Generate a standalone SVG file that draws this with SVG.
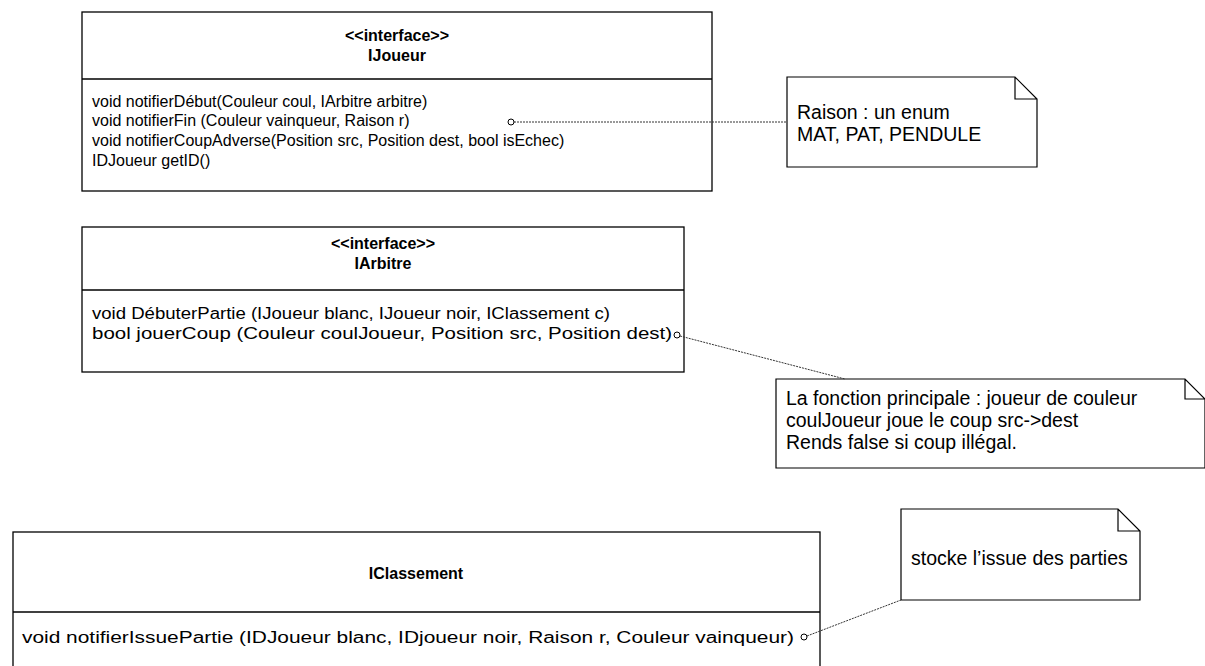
<svg xmlns="http://www.w3.org/2000/svg" width="1205" height="666" viewBox="0 0 1205 666">
<style>
.box{fill:#fff;stroke:#000;stroke-width:1.3}
.sep{stroke:#000;stroke-width:1.3}
.t{font-family:"Liberation Sans",Arial,sans-serif;font-size:16px;fill:#000}
.n{font-family:"Liberation Sans",Arial,sans-serif;font-size:19.5px;fill:#000}
.b{font-family:"Liberation Sans",Arial,sans-serif;font-size:16px;font-weight:bold;fill:#000;text-anchor:middle}
.note{fill:#fff;stroke:#000;stroke-width:1.2}
.link{fill:none;stroke:#333;stroke-width:1;stroke-dasharray:2 1}
.dot{fill:#fff;stroke:#000;stroke-width:1}
</style>
<rect width="1205" height="666" fill="#fff"/>
<g id="IJoueur">
<rect class="box" x="82" y="12" width="630" height="179"/>
<line class="sep" x1="82" y1="79" x2="712" y2="79"/>
<text class="b" x="397" y="41">&lt;&lt;interface&gt;&gt;</text>
<text class="b" x="397" y="61">IJoueur</text>
<text class="t" x="92" y="107">void notifierDébut(Couleur coul, IArbitre arbitre)</text>
<text class="t" x="92" y="126">void notifierFin (Couleur vainqueur, Raison r)</text>
<text class="t" x="92" y="146">void notifierCoupAdverse(Position src, Position dest, bool isEchec)</text>
<text class="t" x="92" y="166">IDJoueur getID()</text>
</g>
<g id="IArbitre">
<rect class="box" x="82" y="227" width="602" height="145"/>
<line class="sep" x1="82" y1="290" x2="684" y2="290"/>
<text class="b" x="383" y="249">&lt;&lt;interface&gt;&gt;</text>
<text class="b" x="383" y="269">IArbitre</text>
<text class="t" x="92" y="319" textLength="518" lengthAdjust="spacingAndGlyphs">void DébuterPartie (IJoueur blanc, IJoueur noir, IClassement c)</text>
<text class="t" x="92" y="339" textLength="580" lengthAdjust="spacingAndGlyphs">bool jouerCoup (Couleur coulJoueur, Position src, Position dest)</text>
</g>
<g id="IClassement">
<rect class="box" x="13" y="532" width="807" height="140"/>
<line class="sep" x1="13" y1="612" x2="820" y2="612"/>
<text class="b" x="416" y="579">IClassement</text>
<text class="t" x="22" y="643" textLength="772" lengthAdjust="spacingAndGlyphs">void notifierIssuePartie (IDJoueur blanc, IDjoueur noir, Raison r, Couleur vainqueur)</text>
</g>
<g id="note-raison">
<path class="note" d="M787 77 H1015 L1037 99 V167 H787 Z M1015 77 V99 H1037"/>
<text class="n" x="797" y="119">Raison : un enum</text>
<text class="n" x="797" y="141">MAT, PAT, PENDULE</text>
</g>
<g id="note-jouerCoup">
<path class="note" d="M776 379 H1185 L1205 399 V468 H776 Z M1185 379 V399 H1205"/>
<text class="n" x="786" y="405">La fonction principale : joueur de couleur</text>
<text class="n" x="786" y="427">coulJoueur joue le coup src-&gt;dest</text>
<text class="n" x="786" y="449">Rends false si coup illégal.</text>
</g>
<g id="note-classement">
<path class="note" d="M901 509 H1118 L1140 531 V600 H901 Z M1118 509 V531 H1140"/>
<text class="n" x="911" y="565">stocke l’issue des parties</text>
</g>
<g id="connectors">
<line class="link" x1="514" y1="122" x2="787" y2="122"/>
<circle class="dot" cx="511" cy="122" r="3"/>
<line class="link" x1="680" y1="336" x2="845" y2="379"/>
<circle class="dot" cx="677" cy="335" r="3"/>
<line class="link" x1="807" y1="636" x2="901" y2="600"/>
<circle class="dot" cx="804" cy="637" r="3"/>
</g>
</svg>
